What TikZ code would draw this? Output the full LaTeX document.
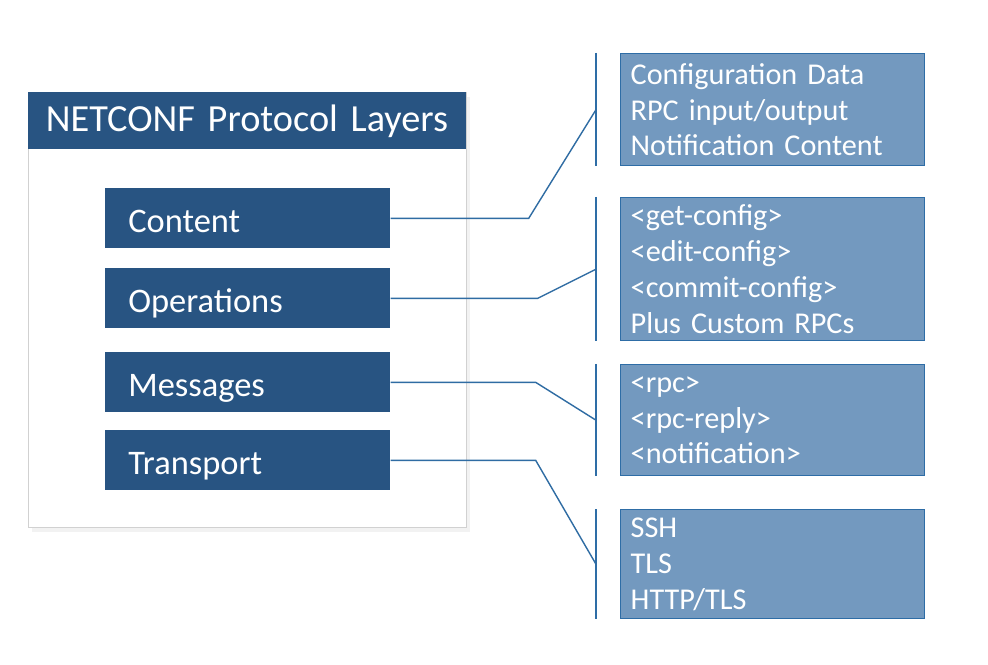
\documentclass[tikz,border=0pt]{standalone}
\usepackage{fontspec}
\setmainfont{Carlito}
\usetikzlibrary{shadows}
\definecolor{layerblue}{HTML}{285482}
\definecolor{itemfill}{HTML}{7399BF}
\definecolor{itemline}{HTML}{2E6DA6}
\definecolor{wireblue}{HTML}{2F6CA3}
\newcommand\tightsp{\spaceskip=0.14em\relax}

\begin{document}
\begin{tikzpicture}[x=0.2mm,y=-0.2mm,
  frame/.style={draw=black!18,fill=white,minimum width=87.6mm,minimum height=87mm,
    drop shadow={opacity=0.1,shadow xshift=0.8mm,shadow yshift=-1mm}},
  title/.style={fill=layerblue,text=white,text width=80.6mm,inner xsep=3.5mm,align=left,
    minimum height=11.4mm,font=\fontsize{21.8}{25}\selectfont\tightsp},
  layer/.style={fill=layerblue,text=white,text width=47.8mm,inner xsep=4.6mm,align=left,
    minimum height=12mm,text height=16pt,text depth=0pt,font=\fontsize{19.6}{24}\selectfont},
  item/.style={draw=itemline,thick,fill=itemfill,text=white,text width=56.8mm,inner xsep=2mm,
    align=left,font=\fontsize{17.2}{20.4}\selectfont\tightsp},
  bar/.style={draw=itemline,line width=1.1pt},
  wire/.style={draw=wireblue,line width=0.8pt}]
  \useasboundingbox[fill=white] (0,0) rectangle (988,665);

  \node[frame,anchor=north west] (box) at (28,92) {};
  \node[title,anchor=north west] (head) at (28,92) {NETCONF Protocol Layers};

  \node[layer,anchor=north west] (content) at (105,188) {Content};
  \node[layer,anchor=north west] (ops) at (105,268) {Operations};
  \node[layer,anchor=north west] (msgs) at (105,352) {Messages};
  \node[layer,anchor=north west] (trans) at (105,430) {Transport};

  \node[item,anchor=north west,minimum height=22.4mm] (data) at (620,53)
    {Configuration Data\\RPC input/output\\Notification Content};
  \node[item,anchor=north west,minimum height=28.6mm] (rpcs) at (620,197)
    {<get-config>\\<edit-config>\\<commit-config>\\Plus Custom RPCs};
  \node[item,anchor=north west,minimum height=22.2mm] (env) at (620,364)
    {<rpc>\\<rpc-reply>\\<notification>};
  \node[item,anchor=north west,minimum height=21.8mm] (sec) at (620,509)
    {SSH\\TLS\\HTTP/TLS};

  \foreach \n in {data,rpcs,env,sec} {
    \draw[bar] ([xshift=-4.8mm]\n.north west) -- ([xshift=-4.8mm]\n.south west);
    \coordinate (\n-in) at ([xshift=-4.8mm]\n.west);
  }

  \draw[wire] (content.east) -- ++(138,0) -- (data-in);
  \draw[wire] (ops.east) -- ++(147,0) -- (rpcs-in);
  \draw[wire] (msgs.east) -- ++(145,0) -- (env-in);
  \draw[wire] (trans.east) -- ++(145,0) -- (sec-in);
\end{tikzpicture}
\end{document}
